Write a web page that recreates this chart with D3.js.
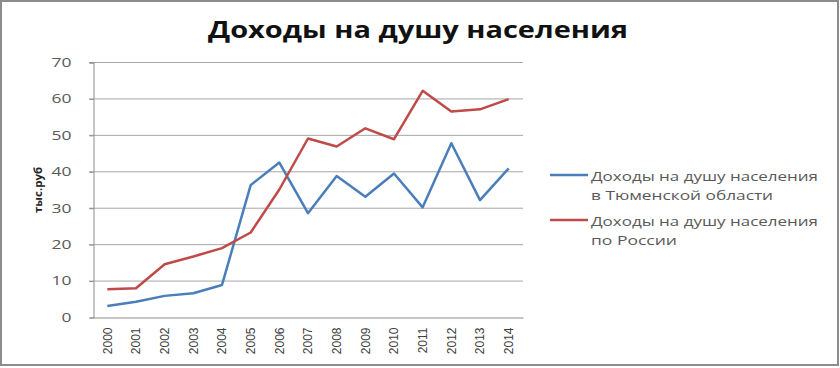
<!DOCTYPE html>
<html>
<head>
<meta charset="utf-8">
<script src="https://cdn.jsdelivr.net/npm/d3@7"></script>
<style>
  html, body { margin: 0; padding: 0; background: #fff; }
  svg { display: block; font-family: "Open Sans", sans-serif; }
</style>
</head>
<body>
<div id="container"></div>
<script>
const width = 840, height = 368;

// --- Data ---
const years = ["2000", "2001", "2002", "2003", "2004", "2005", "2006", "2007",
  "2008", "2009", "2010", "2011", "2012", "2013", "2014"];
const tyumen = [3.0, 4.2, 5.8, 6.5, 8.8, 36.2, 42.4, 28.5, 38.7, 33.0, 39.4, 30.1, 47.7, 32.1, 40.8];
const russia = [7.6, 7.9, 14.5, 16.6, 18.9, 23.2, 35.0, 49.0, 46.8, 51.8, 48.8, 62.1, 56.4, 57.0, 59.8];
const yTicks = [0, 10, 20, 30, 40, 50, 60, 70];
const seriesNames = [
  ["Доходы на душу населения", "в Тюменской области"],
  ["Доходы на душу населения", "по России"]
];
const colors = ["#4a7ebb", "#be4b48"];

// the source picture is stretched sideways, so text is widened to match
const legendLengths = [[227, 182], [227, 86]];

const plot = { left: 93, right: 523, top: 62, bottom: 317 };

const svg = d3.select("#container").append("svg")
  .attr("width", width).attr("height", height);

// outer frame
svg.append("rect")
  .attr("x", 1).attr("y", 1).attr("width", 837).attr("height", 364)
  .attr("fill", "#fff").attr("stroke", "#8c8c8c").attr("stroke-width", 2);

const x = d3.scaleBand().domain(years).range([plot.left, plot.right]);
const y = d3.scaleLinear().domain([0, 70]).range([plot.bottom, plot.top]);

// gridlines
svg.selectAll(".grid").data(yTicks.slice(1)).join("line")
  .attr("x1", plot.left - 4).attr("x2", plot.right)
  .attr("y1", d => y(d) + 0.5).attr("y2", d => y(d) + 0.5)
  .attr("stroke", "#a6a6a6").attr("stroke-width", 1);

// y axis
const yAxis = svg.append("g")
  .attr("transform", `translate(${plot.left + 0.5},0.5)`)
  .call(d3.axisLeft(y).tickValues(yTicks).tickSize(4).tickPadding(18));
yAxis.select(".domain").attr("stroke", "#8c8c8c");
yAxis.selectAll("line").attr("stroke", "#8c8c8c");
yAxis.selectAll("text").attr("fill", "#595959")
  .style("font-size", "12px").style("font-family", "Open Sans, sans-serif")
  .attr("textLength", d => String(d).length * 10)
  .attr("lengthAdjust", "spacingAndGlyphs");

// x axis
const xAxis = svg.append("g")
  .attr("transform", `translate(0,${plot.bottom + 0.5})`)
  .call(d3.axisBottom(x).tickSize(0).tickPadding(0));
xAxis.select(".domain").attr("stroke", "#8c8c8c");
xAxis.selectAll("text")
  .attr("fill", "#404040")
  .style("font-size", "12px").style("font-family", "Liberation Sans, sans-serif")
  .attr("transform", "rotate(-90)")
  .attr("text-anchor", "end")
  .attr("x", -10).attr("y", 0).attr("dy", "0.35em");

// y axis title
svg.append("text")
  .attr("transform", `translate(42,190) rotate(-90)`)
  .attr("text-anchor", "middle")
  .attr("fill", "#222")
  .style("font-size", "11px").style("font-weight", "bold")
  .attr("textLength", 46).attr("lengthAdjust", "spacingAndGlyphs")
  .text("тыс.руб");

// lines
const line = d3.line()
  .x((d, i) => x(years[i]) + x.bandwidth() / 2)
  .y(d => y(d));

[tyumen, russia].forEach((s, k) => {
  svg.append("path").datum(s)
    .attr("fill", "none")
    .attr("stroke", colors[k])
    .attr("stroke-width", 2.5)
    .attr("stroke-linejoin", "round")
    .attr("d", line);
});

// legend
const legendY = [175, 220];
seriesNames.forEach((lines, k) => {
  svg.append("line")
    .attr("x1", 550).attr("x2", 588)
    .attr("y1", legendY[k]).attr("y2", legendY[k])
    .attr("stroke", colors[k]).attr("stroke-width", 2.5);
  lines.forEach((t, j) => {
    svg.append("text")
      .attr("x", 591).attr("y", legendY[k] + 6 + j * 18.5)
      .attr("fill", "#595959")
      .style("font-size", "13px")
      .attr("textLength", legendLengths[k][j]).attr("lengthAdjust", "spacingAndGlyphs")
      .text(t);
  });
});

// title
svg.append("text")
  .attr("x", 418).attr("y", 38)
  .attr("text-anchor", "middle")
  .attr("fill", "#111")
  .style("font-size", "23px").style("font-weight", "bold")
  .attr("textLength", 420).attr("lengthAdjust", "spacingAndGlyphs")
  .text("Доходы на душу населения");
</script>
</body>
</html>
